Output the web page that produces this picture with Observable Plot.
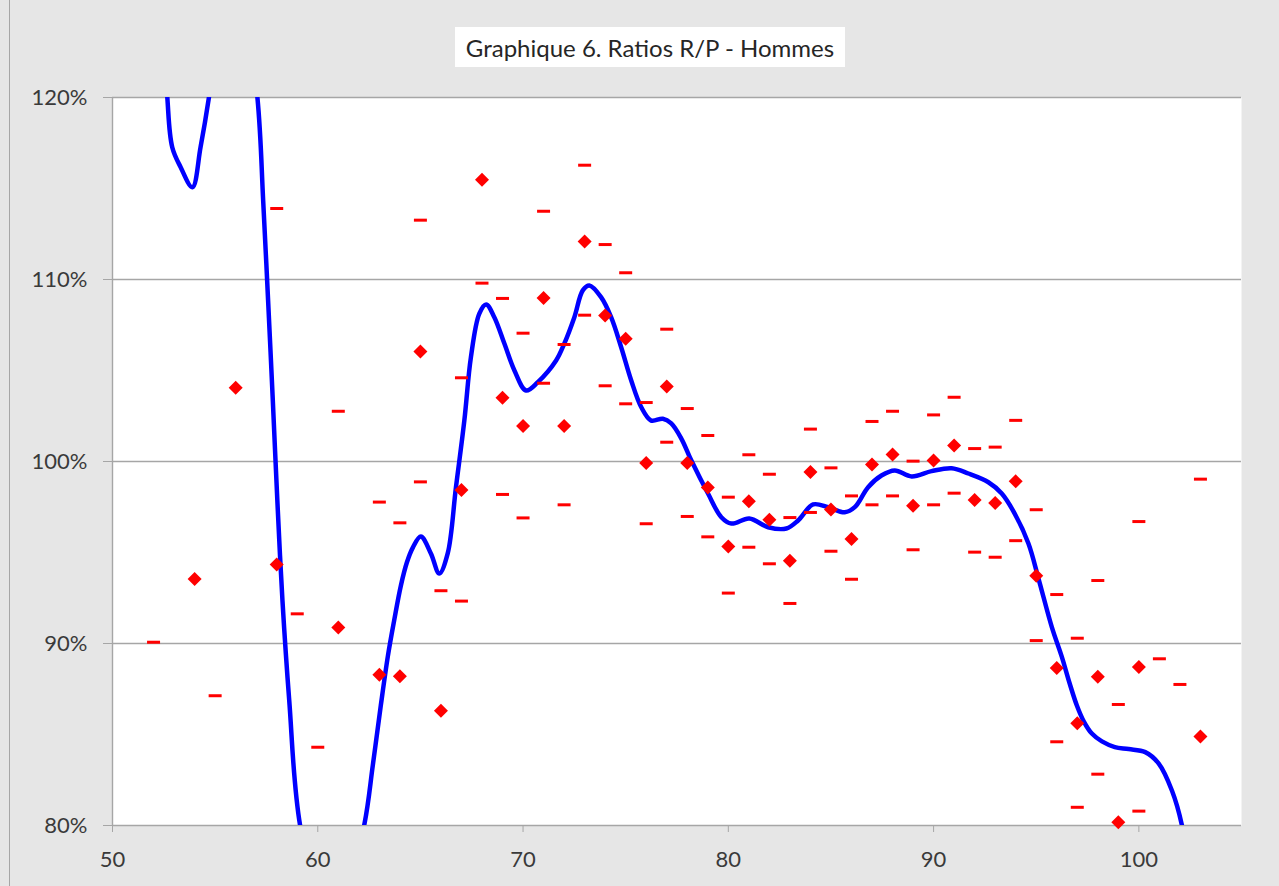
<!DOCTYPE html>
<html>
<head>
<meta charset="utf-8">
<script src="https://cdn.jsdelivr.net/npm/d3@7"></script>
<script src="https://cdn.jsdelivr.net/npm/@observablehq/plot@0.6"></script>
<style>
  body { margin: 0; background: #e6e6e6; }
  #wrap { position: relative; width: 1279px; height: 886px; background: #e6e6e6; overflow: hidden; }
  #border { position: absolute; left: 9px; top: 0; width: 1px; height: 886px; background: #a6a6a6; }
  #title { position: absolute; left: 455px; top: 27px; width: 390px; height: 40px; background: #fff;
           font-family: Lato, "Open Sans", sans-serif; font-size: 24px; color: #262626;
           display: flex; align-items: center; justify-content: center; white-space: nowrap; }
  #chart { position: absolute; left: 0; top: 0; }
</style>
</head>
<body>
<div id="wrap">
  <div id="border"></div>
  <div id="chart"></div>
  <div id="title">Graphique 6. Ratios R/P - Hommes</div>
</div>
<script>
// Observed ratios (diamonds)
const ratioAge = [54,56,58,61,63,64,65,66,67,68,69,70,71,72,73,74,75,76,77,78,79,80,81,82,83,84,85,86,87,88,89,90,91,92,93,94,95,96,97,98,99,100,103];
const ratioValue = [93.55,104.05,94.34,90.88,88.28,88.2,106.04,86.3,98.43,115.48,103.5,101.95,108.99,101.95,112.09,108.02,106.75,99.92,104.12,99.92,98.57,95.33,97.82,96.8,94.55,99.42,97.36,95.74,99.84,100.38,97.57,100.05,100.88,97.88,97.72,98.91,93.72,88.66,85.62,88.17,80.18,88.71,84.89];

// Interval bounds (dashes)
const boundAge = [52,55,58,59,60,61,63,64,65,65,66,67,67,68,69,69,70,70,71,71,72,72,73,73,74,74,75,75,76,76,77,77,78,78,79,79,80,80,81,81,82,82,83,83,84,84,85,85,86,86,87,87,88,88,89,89,90,90,91,91,92,92,93,93,94,94,95,95,96,96,97,97,98,98,99,100,100,101,102,103];
const boundValue = [90.07,87.13,113.9,91.63,84.3,102.76,97.77,96.63,113.26,98.88,92.9,104.6,92.33,109.8,108.96,98.19,107.05,96.9,113.75,104.3,106.43,97.62,116.28,108.04,111.92,104.16,110.37,103.17,103.24,96.58,107.27,101.06,102.91,96.98,101.43,95.86,98.04,92.77,100.37,95.29,99.3,94.38,96.92,92.2,101.78,97.2,99.65,95.07,98.11,93.53,102.2,97.62,102.76,98.11,100.02,95.15,102.56,97.62,103.53,98.26,100.71,95.02,100.79,94.74,102.26,95.65,97.35,90.16,92.69,84.6,90.29,81.0,93.46,82.82,86.65,96.7,80.79,89.16,87.75,99.03];

// Smoothed curve (blue)
const curveAge = [52.4,52.67,52.91,53.32,53.89,54.29,54.70,55.9,57.06,57.34,57.58,57.81,58.03,58.28,58.61,59.14,60.7,62.26,62.68,63.07,63.42,63.72,64.05,64.34,64.63,65.02,65.51,65.92,66.33,66.73,67.14,67.46,67.87,68.2,68.6,69.09,69.58,70.15,70.72,71.61,72.01,72.5,72.91,73.23,73.8,74.29,74.78,75.27,75.76,76.24,76.81,77.22,77.71,78.2,79.01,79.66,80.15,81.02,81.94,82.83,83.4,84.13,84.86,85.67,86.16,86.81,87.46,88.11,88.93,89.9,90.88,91.69,92.67,93.32,93.95,94.62,95.11,95.76,96.24,96.63,96.98,97.32,97.71,98.2,98.83,99.5,100.31,100.96,101.61,102.1,102.5];
const curveValue = [127,120.02,117.27,116.17,115.07,117.27,120.02,130,120.0,114.34,108.85,103.35,97.86,92.36,86.87,80.0,73,80.0,83.3,86.59,89.34,91.26,93.19,94.45,95.27,95.88,94.95,93.85,94.95,98.57,102.25,105.73,108.13,108.63,107.93,106.48,105.0,103.9,104.36,105.55,106.48,107.93,109.4,109.67,109.03,107.93,106.28,104.45,102.98,102.25,102.35,102.09,101.26,100.05,98.24,96.94,96.59,96.87,96.39,96.32,96.76,97.64,97.49,97.21,97.49,98.59,99.23,99.51,99.18,99.47,99.63,99.34,98.86,98.24,97.14,95.49,93.57,90.9,89.29,87.8,86.59,85.71,85.05,84.62,84.31,84.2,84.03,83.41,81.92,80.0,77];

const xTicks = [50,60,70,80,90,100];
const yTicks = [80,90,100,110,120];

const ratios = ratioAge.map((a,i) => ({age: a, value: ratioValue[i]}));
const bounds = boundAge.map((a,i) => ({age: a, value: boundValue[i]}));
const curve = curveAge.map((a,i) => ({age: a, value: curveValue[i]}));

const diamond = { draw(ctx) { ctx.moveTo(0,-7); ctx.lineTo(7,0); ctx.lineTo(0,7); ctx.lineTo(-7,0); ctx.closePath(); } };
const dash = { draw(ctx) { ctx.moveTo(-6.5,-1.5); ctx.lineTo(6.5,-1.5); ctx.lineTo(6.5,1.5); ctx.lineTo(-6.5,1.5); ctx.closePath(); } };

const gridColor = "#a6a6a6";

const chart = Plot.plot({
  width: 1279,
  height: 886,
  marginLeft: 112,
  marginRight: 38,
  marginTop: 97,
  marginBottom: 61,
  style: { background: "transparent", fontFamily: "Lato, 'Open Sans', sans-serif", fontSize: "22px", color: "#3a3a3a" },
  x: { domain: [50, 105] },
  y: { domain: [80, 120] },
  marks: [
    Plot.frame({ fill: "white", stroke: null }),
    Plot.gridY(yTicks, { stroke: gridColor, strokeOpacity: 1, strokeWidth: 1.4 }),
    Plot.ruleX([50], { stroke: gridColor, strokeWidth: 1.4 }),
    Plot.axisY({ ticks: yTicks, tickFormat: d => d + "%", tickSize: 9, tickPadding: 16, stroke: gridColor, fill: "#3a3a3a", label: null }),
    Plot.axisX({ ticks: xTicks, tickSize: 7, tickPadding: 19, stroke: gridColor, fill: "#3a3a3a", label: null }),
    Plot.line(curve, { x: "age", y: "value", stroke: "#0000ff", strokeWidth: 4.5, curve: "catmull-rom", clip: true }),
    Plot.dot(bounds, { x: "age", y: "value", symbol: dash, fill: "#ff0000", stroke: null }),
    Plot.dot(ratios, { x: "age", y: "value", symbol: diamond, fill: "#ff0000", stroke: null })
  ]
});
document.getElementById("chart").appendChild(chart);
</script>
</body>
</html>
